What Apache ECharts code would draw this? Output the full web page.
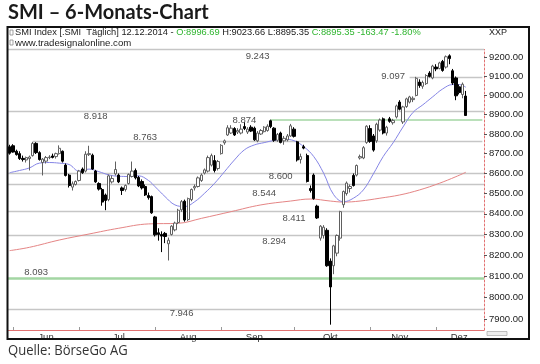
<!DOCTYPE html>
<html><head><meta charset="utf-8">
<script src="https://cdn.jsdelivr.net/npm/echarts@6/dist/echarts.min.js"></script>
<style>html,body{margin:0;padding:0;background:#fff}#c{width:540px;height:364px}</style>
</head><body><div id="c"></div>
<script>
// ---------- DATA ----------
const holidays = ['2014-06-09', '2014-08-01'];
const firstDay = '2014-05-30', lastAxisDay = '2014-12-19';

const opens = [8735,8740,8712,8700,8676,8668,8675,8690,8752,8705,8655,8662,8680,8688,8685,8700,8712,8642,8592,8532,8545,
8565,8622,8612,8695,8692,8612,8550,8520,8493,8470,8558,8598,8592,8528,8520,8550,8585,8615,8580,8560,8535,8490,8485,
8385,8308,8300,8305,8255,8300,8322,8358,8420,8462,8372,8470,8528,8535,8565,8602,8612,8642,8665,8625,
8700,8755,8795,8805,8828,8810,8805,8838,8810,8835,8830,8765,8800,8812,8818,8868,8830,8768,8805,8765,8770,8790,
8825,8760,8670,8735,8690,8525,8592,8438,8282,8295,8320,8172,8150,8210,8282,8445,8500,8525,8590,8592,8678,8678,8757,
8828,8790,8765,8820,8878,8805,8878,8858,8888,8965,8862,8942,8965,8978,9000,9070,9048,9062,9118,9092,
9150,9142,9180,9150,9210,9130,9092,9045,9005,8996.69];
const highs = [8745,8748,8720,8712,8690,8685,8690,8760,8758,8712,8678,8688,8692,8700,8705,8742,8716,8650,8598,8560,8565,
8618,8630,8712,8740,8700,8618,8556,8528,8500,8595,8590,8660,8600,8535,8545,8600,8660,8625,8588,8570,8545,8505,8490,
8390,8330,8315,8312,8285,8345,8362,8425,8468,8470,8480,8525,8545,8585,8600,8625,8690,8700,8692,8668,
8748,8772,8845,8845,8835,8830,8850,8860,8835,8845,8838,8815,8825,8840,8850,8874,8835,8805,8812,8790,8800,8852,
8835,8765,8700,8745,8700,8540,8600,8445,8345,8345,8330,8185,8250,8300,8415,8515,8560,8545,8600,8645,8695,8738,8845,
8845,8800,8858,8880,8885,8842,8888,8878,8952,8975,8946,8988,8998,8995,9098,9085,9078,9112,9128,9162,
9165,9178,9188,9212,9218,9140,9100,9058,9068,9023.66];
const lows = [8695,8705,8690,8668,8660,8655,8615,8685,8698,8665,8590,8650,8672,8676,8675,8695,8655,8585,8530,8515,8540,
8560,8598,8605,8688,8618,8553,8515,8440,8418,8462,8550,8590,8552,8493,8510,8545,8580,8570,8532,8520,8488,8470,8400,
8290,8270,8215,8258,8175,8295,8315,8350,8410,8362,8365,8462,8515,8530,8558,8595,8605,8635,8605,8615,
8695,8745,8790,8800,8790,8800,8798,8820,8800,8810,8765,8758,8795,8808,8812,8830,8760,8760,8752,8745,8762,8785,
8782,8660,8650,8722,8555,8505,8470,8375,8270,8280,8145,7875,8110,8195,8270,8430,8490,8505,8535,8585,8670,8672,8750,
8755,8710,8755,8812,8798,8792,8858,8848,8880,8922,8852,8935,8958,8965,8995,9040,9035,9055,9095,9085,
9128,9138,9125,9142,9165,9055,8975,9005,8985,8895.35];
const closes = [8702,8708,8695,8675,8670,8680,8683,8752,8705,8670,8672,8680,8683,8681,8700,8727,8662,8590,8540,8548,8560,
8612,8604,8697,8700,8622,8558,8522,8458,8466,8588,8575,8620,8558,8515,8540,8595,8612,8578,8538,8528,8493,8480,8405,
8298,8300,8292,8290,8272,8340,8355,8418,8460,8370,8475,8520,8535,8578,8592,8618,8680,8690,8615,8660,
8742,8765,8832,8830,8795,8818,8825,8828,8825,8815,8770,8805,8818,8835,8840,8838,8768,8798,8757,8778,8790,8842,
8788,8668,8685,8728,8560,8515,8475,8380,8340,8335,8150,8050,8245,8295,8411,8510,8552,8535,8540,8640,8685,8730,8840,
8762,8718,8850,8872,8805,8835,8865,8870,8945,8928,8940,8982,8992,8985,9090,9052,9068,9105,9100,9155,
9140,9172,9132,9205,9195,9065,8998,9015,9058.82,8895.35];

// moving averages: [date, value]
const maBlue = [['2014-05-30',8604],['2014-06-04',8615],['2014-06-10',8628],['2014-06-13',8652],['2014-06-18',8655],
['2014-06-23',8652],['2014-06-26',8645],['2014-07-01',8612],['2014-07-04',8622],['2014-07-09',8609],['2014-07-14',8593],
['2014-07-17',8586],['2014-07-22',8585],['2014-07-25',8588],['2014-07-30',8565],['2014-08-04',8534],['2014-08-07',8485],
['2014-08-12',8444],['2014-08-15',8436],['2014-08-20',8460],['2014-08-25',8502],['2014-08-28',8551],['2014-09-02',8609],
['2014-09-05',8668],['2014-09-10',8719],['2014-09-15',8744],['2014-09-18',8756],['2014-09-23',8767],['2014-09-26',8773],
['2014-10-01',8766],['2014-10-06',8735],['2014-10-09',8685],['2014-10-14',8601],['2014-10-17',8495],['2014-10-22',8460],
['2014-10-27',8477],['2014-10-30',8518],['2014-11-04',8597],['2014-11-07',8685],['2014-11-12',8755],['2014-11-17',8836],
['2014-11-20',8911],['2014-11-25',8951],['2014-11-28',8993],['2014-12-03',9034],['2014-12-08',9057],['2014-12-10',9057],
['2014-12-12',9043]];
const maRed = [['2014-05-30',8222],['2014-06-10',8238],['2014-06-23',8273],['2014-07-04',8302],['2014-07-17',8330],
['2014-07-30',8351],['2014-08-13',8354],['2014-08-22',8378],['2014-09-04',8411],['2014-09-17',8444],['2014-09-30',8463],
['2014-10-08',8473],['2014-10-16',8463],['2014-10-22',8458],['2014-10-29',8463],['2014-11-06',8477],['2014-11-14',8493],
['2014-11-24',8518],['2014-12-02',8551],['2014-12-09',8584],['2014-12-12',8606]];

// support / resistance levels
const levelValues = [9243, 9097, 8918, 8874, 8763, 8600, 8544, 8411, 8294, 8093, 7946];
const levelStart  = [null, '2014-11-19', null, '2014-09-22', '2014-06-11', null, null, null, null, null, null];
const levelLabelAt = ['2014-09-16','2014-11-12','2014-07-08','2014-09-10','2014-07-29','2014-09-25','2014-09-18',
                      '2014-10-01','2014-09-23','2014-06-12','2014-08-14'];
const greenLevels = [8874, 8093];

const yTicks = [7900,8000,8100,8200,8300,8400,8500,8600,8700,8800,8900,9000,9100,9200];
const monthNames = ['Jun','Jul','Aug','Sep','Okt','Nov','Dez'];
const monthLabelDates = ['2014-06-17','2014-07-17','2014-08-18','2014-09-15','2014-10-16','2014-11-14','2014-12-10'];
const monthStartDates = ['2014-06-02','2014-07-01','2014-08-04','2014-09-01','2014-10-01','2014-11-03','2014-12-01'];

const lastChange = -163.47, lastChangePct = -1.80;

// ---------- BUILD ----------
function tradingDays(start, end, hol) {
  const out = []; let d = new Date(start + 'T00:00:00Z'); const e = new Date(end + 'T00:00:00Z');
  while (d <= e) {
    const wd = d.getUTCDay(); const s = d.toISOString().slice(0, 10);
    if (wd !== 0 && wd !== 6 && hol.indexOf(s) < 0) out.push(s);
    d = new Date(d.getTime() + 86400000);
  }
  return out;
}
const dates = tradingDays(firstDay, lastAxisDay, holidays);
const lastCat = dates[dates.length - 1];
const candles = opens.map((o, k) => [o, closes[k], lows[k], highs[k]]);
const n = opens.length - 1;

const labelOffsets = [7, -1, 5.5, 1, -4, 3, 9, 6.5, 6, -5, 4];
const fmtLevel = v => (v / 1000).toFixed(3);

const levelLines = levelValues.map((v, k) => {
  const green = greenLevels.indexOf(v) >= 0;
  const ls = green ? {color: '#a3d6a3', width: v === 8093 ? 2.5 : 1.5, type: 'solid'}
                   : {color: '#c6c6c6', width: 1.3, type: 'solid'};
  if (levelStart[k]) return [{xAxis: levelStart[k], yAxis: v, lineStyle: ls}, {xAxis: lastCat, yAxis: v}];
  return {yAxis: v, lineStyle: ls};
});
levelLines.push({
  yAxis: closes[n], lineStyle: {opacity: 0},
  label: {show: true, position: 'end', distance: 3, formatter: closes[n].toFixed(2), fontSize: 9.5,
          fontFamily: 'Liberation Sans', color: '#222', backgroundColor: '#fff', borderColor: '#777',
          borderWidth: 1, borderRadius: 3, padding: [1, 2, 0, 5]}
});

const chart = echarts.init(document.getElementById('c'), null, {renderer: 'canvas', width: 540, height: 364});
const hdr = 'SMI Index [.SMI  Täglich] 12.12.2014 - ';
chart.setOption({
  animation: false,
  backgroundColor: '#ffffff',
  grid: {left: 8, top: 49.5, width: 476, height: 280.5, show: false},
  xAxis: {
    type: 'category', data: dates, boundaryGap: true,
    axisLine: {show: true, lineStyle: {color: '#e27272', width: 1}},
    axisTick: {show: true, alignWithLabel: true, inside: true, length: 3,
               interval: (i, v) => monthStartDates.indexOf(v) >= 0, lineStyle: {color: '#999'}},
    axisLabel: {interval: (i, v) => monthLabelDates.indexOf(v) >= 0,
                formatter: v => monthNames[monthLabelDates.indexOf(v)] || '',
                fontSize: 9.5, color: '#333', margin: 2, fontFamily: 'Liberation Sans'},
    splitLine: {show: false}
  },
  yAxis: {
    type: 'log', logBase: 10, position: 'right', min: 7850.6, max: 9244, scale: true,
    axisLine: {show: true, lineStyle: {color: '#e27272', type: [2, 2], width: 1}},
    axisTick: {show: true, customValues: yTicks, length: 3, lineStyle: {color: '#555'}},
    axisLabel: {customValues: yTicks, formatter: v => Number(v).toFixed(2), fontSize: 9.5, color: '#222',
                margin: 5, fontFamily: 'Liberation Sans'},
    splitLine: {show: false}
  },
  series: [
    {
      name: 'levels', type: 'line', data: [], z: 1, silent: true,
      markLine: {silent: true, symbol: ['none', 'none'], z: 1, label: {show: false}, data: levelLines}
    },
    {
      name: 'maRed', type: 'line', data: maRed, smooth: 0.4, connectNulls: true, showSymbol: false, z: 3,
      lineStyle: {color: '#e58585', width: 1}, silent: true
    },
    {
      name: 'maBlue', type: 'line', data: maBlue, smooth: 0.4, connectNulls: true, showSymbol: false, z: 3,
      lineStyle: {color: '#8585e6', width: 1}, silent: true
    },
    {
      name: 'SMI', type: 'candlestick', data: candles, barWidth: 2.8, z: 5,
      itemStyle: {color: '#ffffff', color0: '#000000', borderColor: '#606060', borderColor0: '#000000', borderWidth: 1}
    },
    {
      name: 'levelLabels', type: 'scatter', z: 6, symbolSize: 1, silent: true,
      itemStyle: {color: 'transparent'},
      data: levelValues.map((v, k) => ({value: [levelLabelAt[k], v], label: {offset: [0, labelOffsets[k]]}})),
      label: {show: true, position: 'inside', formatter: p => fmtLevel(p.value[1]), fontSize: 9.5,
              fontFamily: 'Liberation Sans', color: '#222'}
    }
  ],
  graphic: [
    {type: 'text', left: 8, top: 3, style: {text: 'SMI – 6-Monats-Chart', font: 'bold 20px Lato', fill: '#1a1a1a'}},
    {type: 'rect', shape: {x: 7.5, y: 27, width: 521.5, height: 312}, style: {fill: 'none', stroke: '#111', lineWidth: 2}, z: 100},
    {type: 'rect', shape: {x: 10, y: 30, width: 3, height: 5}, style: {fill: 'none', stroke: '#888', lineWidth: 0.8}},
    {type: 'rect', shape: {x: 10, y: 40, width: 3, height: 5}, style: {fill: 'none', stroke: '#888', lineWidth: 0.8}},
    {type: 'text', x: 15, y: 28, style: {
      text: '{k|' + hdr + '}{g|O:' + opens[n].toFixed(2) + '}{k| H:' + highs[n].toFixed(2) + ' L:' + lows[n].toFixed(2) +
            ' }{g|C:' + closes[n].toFixed(2) + ' ' + lastChange.toFixed(2) + ' ' + lastChangePct.toFixed(2) + '%}',
      rich: {k: {fill: '#222', fontSize: 9.3, fontFamily: 'Liberation Sans'},
             g: {fill: '#2fb52f', fontSize: 9.3, fontFamily: 'Liberation Sans'}}}},
    {type: 'text', x: 15, y: 38, style: {text: 'www.tradesignalonline.com', fill: '#222', font: '9.6px "Liberation Sans"'}},
    {type: 'text', x: 489, y: 28.5, style: {text: 'XXP', fill: '#222', font: '9px "Liberation Sans"'}},
    {type: 'rect', shape: {x: 487, y: 331.5, width: 20, height: 4}, style: {fill: '#eee', stroke: '#999', lineWidth: 0.6}},
    {type: 'text', x: 8, y: 343, scaleX: 0.87, style: {text: 'Quelle: BörseGo AG', fill: '#333', font: '15px "Open Sans"'}}
  ]
});
</script></body></html>
